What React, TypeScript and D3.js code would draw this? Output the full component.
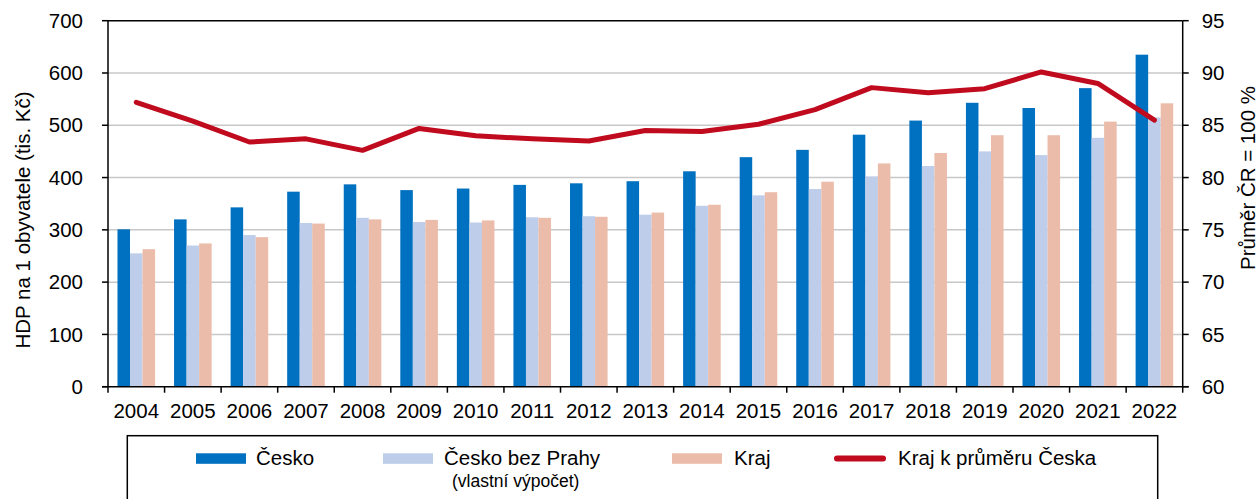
import React from 'react';
import * as d3 from 'd3';

const YEARS = ['2004', '2005', '2006', '2007', '2008', '2009', '2010', '2011', '2012', '2013', '2014', '2015', '2016', '2017', '2018', '2019', '2020', '2021', '2022'];
const CESKO = [301, 320, 343, 373, 387, 376, 379, 386, 389, 393, 412, 439, 453, 482, 509, 543, 533, 571, 635];
const BEZ_PRAHY = [255, 270, 290, 313, 323, 315, 314, 324, 326, 329, 346, 366, 378, 402, 422, 450, 443, 476, 515];
const KRAJ = [263, 274, 286, 312, 320, 319, 318, 323, 325, 333, 348, 372, 392, 427, 447, 481, 481, 507, 542];
const KRAJ_PCT = [87.2, 85.4, 83.4, 83.7, 82.6, 84.7, 84.0, 83.7, 83.5, 84.5, 84.4, 85.1, 86.5, 88.6, 88.1, 88.5, 90.1, 89.0, 85.5];
const LEFT_TICKS = [0, 100, 200, 300, 400, 500, 600, 700];
const RIGHT_TICKS = [60, 65, 70, 75, 80, 85, 90, 95];

const BAR_SERIES = [
  { key: 'cesko', values: CESKO, color: '#0070c0' },
  { key: 'bez', values: BEZ_PRAHY, color: '#bdcdea' },
  { key: 'kraj', values: KRAJ, color: '#ebbcaa' },
];
const LINE_COLOR = '#c00a1e';
const FONT = '"Liberation Sans", Arial, sans-serif';
const FS = 20.5;

const W = 1260;
const H = 499;
const margin = { top: 20.7, right: 77.3, bottom: 112.3, left: 108 };

export default function App() {
  const x = d3.scaleBand<string>().domain(YEARS).range([margin.left, W - margin.right]).padding(0);
  const x1 = d3.scaleBand<string>().domain(BAR_SERIES.map(s => s.key)).range([0, x.bandwidth()]).paddingInner(0).paddingOuter(0.757);
  const y = d3.scaleLinear().domain([0, 700]).range([H - margin.bottom, margin.top]);
  const y2 = d3.scaleLinear().domain([60, 95]).range([H - margin.bottom, margin.top]);

  const line = d3.line<number>()
    .x((_, i) => (x(YEARS[i]) as number) + x.bandwidth() / 2)
    .y(d => y2(d));

  const x0 = margin.left;
  const xR = W - margin.right;
  const yB = H - margin.bottom;
  const yT = margin.top;

  const boundaries = d3.range(YEARS.length + 1).map(i => x0 + i * x.step());

  return (
    <svg width={W} height={H} style={{ position: 'absolute', left: 0, top: 0, background: '#fff' }} fontFamily={FONT}>
      {/* gridlines */}
      {LEFT_TICKS.slice(1, -1).map(t => (
        <line key={t} x1={x0} x2={xR} y1={y(t)} y2={y(t)} stroke="#c8c8c8" strokeWidth={1.5} />
      ))}

      {/* bars */}
      {BAR_SERIES.map(s => (
        <g key={s.key}>
          {s.values.map((v, i) => (
            <rect key={i}
              x={(x(YEARS[i]) as number) + (x1(s.key) as number)}
              y={y(v)}
              width={x1.bandwidth()}
              height={yB - y(v)}
              fill={s.color} />
          ))}
        </g>
      ))}

      {/* line */}
      <path d={line(KRAJ_PCT) || ''} fill="none" stroke={LINE_COLOR} strokeWidth={5} strokeLinejoin="round" strokeLinecap="round" />

      {/* frame */}
      <line x1={x0} x2={xR} y1={yT} y2={yT} stroke="#000" strokeWidth={1.5} />
      <line x1={x0} x2={x0} y1={yT} y2={yB} stroke="#000" strokeWidth={1.5} />
      <line x1={xR} x2={xR} y1={yT} y2={yB} stroke="#000" strokeWidth={1.5} />
      <line x1={x0 - 6} x2={xR + 6} y1={yB} y2={yB} stroke="#000" strokeWidth={1.5} />

      {/* left axis */}
      {LEFT_TICKS.map(t => (
        <g key={t}>
          <line x1={x0 - 6} x2={x0} y1={y(t)} y2={y(t)} stroke="#000" strokeWidth={1.5} />
          <text x={x0 - 25} y={y(t)} dy="0.35em" textAnchor="end" fontSize={FS}>{t}</text>
        </g>
      ))}

      {/* right axis */}
      {RIGHT_TICKS.map(t => (
        <g key={t}>
          <line x1={xR} x2={xR + 6} y1={y2(t)} y2={y2(t)} stroke="#000" strokeWidth={1.5} />
          <text x={xR + 19} y={y2(t)} dy="0.35em" textAnchor="start" fontSize={FS}>{t}</text>
        </g>
      ))}

      {/* bottom ticks */}
      {boundaries.map((b, i) => (
        <line key={i} x1={b} x2={b} y1={yB} y2={yB + 6} stroke="#000" strokeWidth={1.5} />
      ))}
      {YEARS.map(yr => (
        <text key={yr} x={(x(yr) as number) + x.bandwidth() / 2} y={418} textAnchor="middle" fontSize={FS}>{yr}</text>
      ))}

      {/* axis titles */}
      <text transform={`translate(30,220) rotate(-90)`} textAnchor="middle" fontSize={FS}>HDP na 1 obyvatele (tis. Kč)</text>
      <text transform={`translate(1255,178) rotate(-90)`} textAnchor="middle" fontSize={FS}>Průměr ČR = 100 %</text>

      {/* legend */}
      <rect x={127.3} y={435.7} width={1030.4} height={80} fill="#fff" stroke="#000" strokeWidth={1.5} />
      <rect x={196} y={453.3} width={50} height={10.5} fill={BAR_SERIES[0].color} />
      <text x={256} y={465} fontSize={FS}>Česko</text>
      <rect x={383} y={453.3} width={50} height={10.5} fill={BAR_SERIES[1].color} />
      <text x={444} y={465} fontSize={FS}>Česko bez Prahy</text>
      <text x={452} y={487} fontSize={17.5}>(vlastní výpočet)</text>
      <rect x={672} y={453.3} width={50} height={10.5} fill={BAR_SERIES[2].color} />
      <text x={734} y={465} fontSize={FS}>Kraj</text>
      <line x1={837} x2={883} y1={458.5} y2={458.5} stroke={LINE_COLOR} strokeWidth={6} strokeLinecap="round" />
      <text x={898} y={465} fontSize={FS}>Kraj k průměru Česka</text>
    </svg>
  );
}
